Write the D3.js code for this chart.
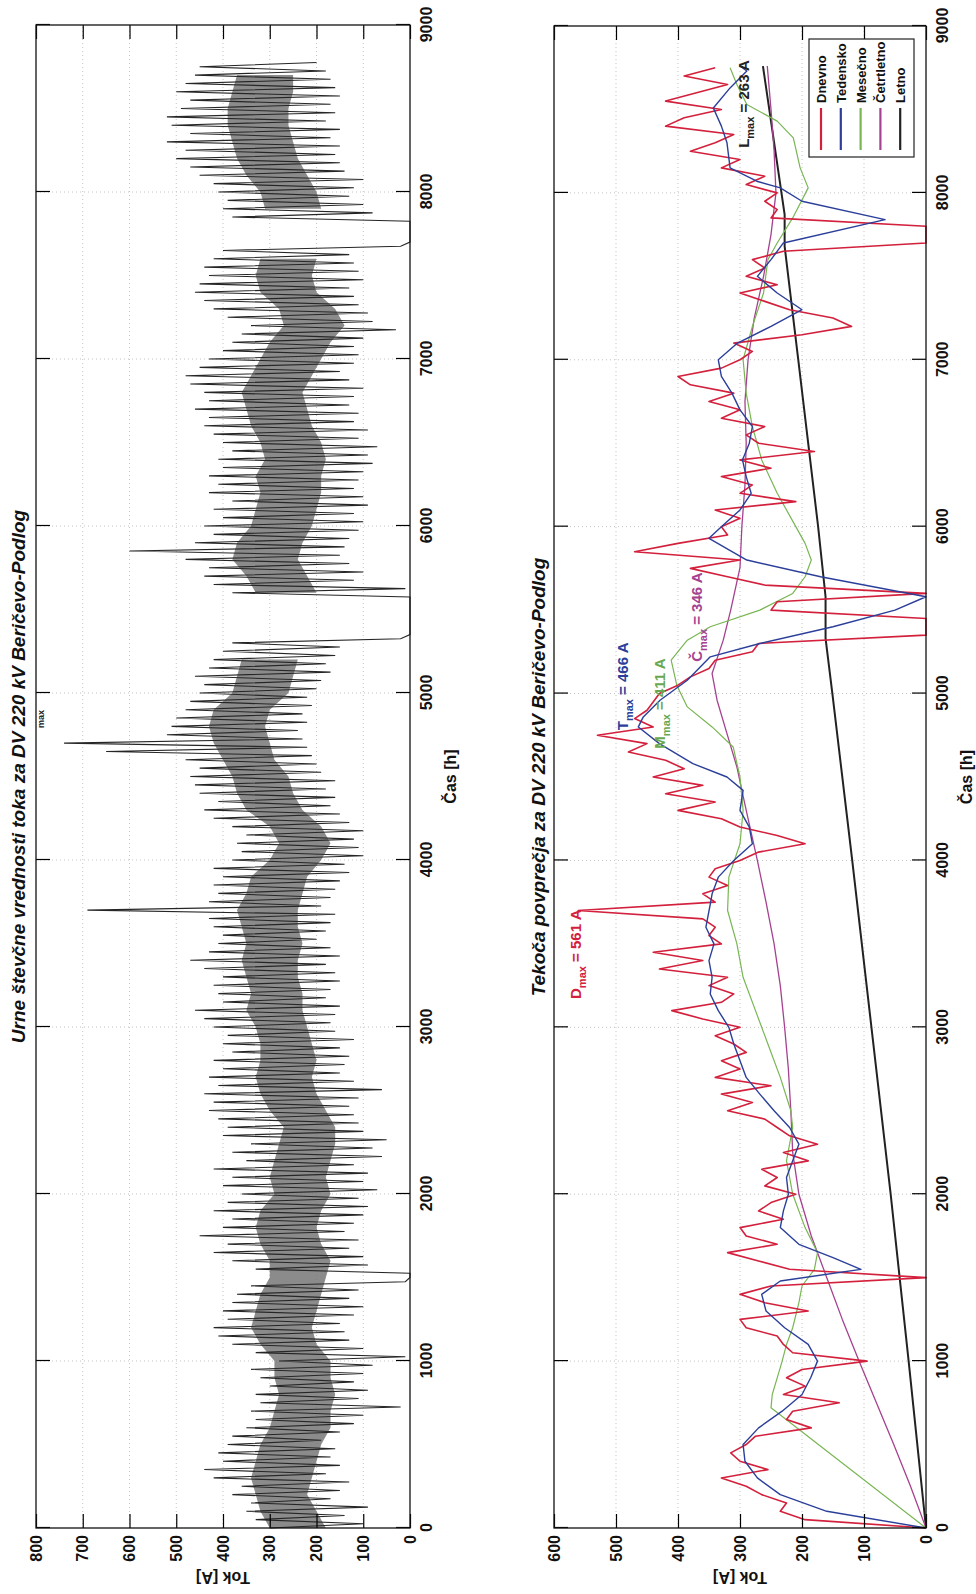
<!DOCTYPE html>
<html><head><meta charset="utf-8">
<script src="https://cdn.jsdelivr.net/npm/d3@7/dist/d3.min.js"></script>
<style>
body{margin:0;background:#fff}
svg{display:block}
text{font-family:"Liberation Sans",Arial,Helvetica,sans-serif}
</style>
</head><body><div id="chart"></div>
<script>
// ---------------- DATA ----------------
const timeTicks = [0,1000,2000,3000,4000,5000,6000,7000,8000,9000];
const tokTicksTop = [0,100,200,300,400,500,600,700,800];
const tokTicksBottom = [0,100,200,300,400,500,600];

// Top panel: hourly meter values, read as alternating upper / lower swings every 50 h (0..8750 h)
const hourlyStep = 50;
const hourlyHi = [
 300,330,350,340,380,360,420,440,400,410,390,380,350,330,340,320,330,300,320,340,
 280,330,380,410,420,390,400,380,370,340,0,330,380,420,390,450,400,380,420,390,
 360,400,380,420,350,380,340,400,390,410,430,420,440,410,430,400,420,380,400,390,
 420,440,460,400,410,420,400,440,470,430,410,400,420,430,690,430,410,420,400,420,
 380,360,370,350,380,420,440,410,450,460,470,450,480,650,740,520,510,500,480,470,
 450,440,460,430,420,400,380,0,0,0,0,0,380,420,440,430,480,600,460,420,
 440,400,420,380,430,410,430,400,410,380,400,420,440,430,460,430,440,470,480,450,
 430,400,380,360,340,390,420,440,460,450,430,440,420,400,0,0,0,380,400,390,
 410,420,450,470,500,480,520,470,510,520,490,470,500,480,460,450];
const hourlyLo = [
 100,140,90,170,150,130,180,150,170,160,190,150,120,100,20,110,90,120,100,80,
 10,100,130,140,150,120,100,130,110,10,0,90,100,130,110,140,120,100,90,110,
 70,100,90,120,60,80,50,100,110,120,130,110,60,120,150,140,130,150,120,160,
 170,160,150,180,170,150,160,180,150,170,200,180,170,160,190,170,160,150,130,140,
 100,110,120,100,130,150,170,160,180,160,190,200,210,220,230,240,220,230,210,220,
 200,190,170,180,160,150,20,0,0,0,0,0,10,120,100,130,150,140,130,110,
 100,120,90,100,120,110,100,80,90,70,110,90,120,110,130,120,100,130,150,120,
 110,120,100,30,80,90,110,120,130,100,110,120,130,20,0,0,0,80,100,130,
 120,100,140,150,160,150,170,150,180,160,170,150,160,170,180,200];
// dense core of the hourly band, every 100 h (null = no data)
const coreStep = 100;
const coreHi = [
 300,320,330,340,330,320,300,290,280,290,
 290,320,340,330,320,300,300,320,330,320,
 290,300,290,280,270,300,320,330,320,320,
 330,350,340,350,360,350,360,370,350,340,
 300,280,300,350,370,380,400,420,430,420,
 380,370,360,null,null,null,330,350,380,370,
 340,330,320,330,310,320,340,350,360,340,
 320,300,270,280,320,330,320,null,null,310,
 320,350,370,380,390,390,380,370];
const coreLo = [
 180,200,220,210,200,190,170,170,160,170,
 170,200,210,200,190,180,170,190,200,190,
 170,180,170,160,160,180,200,210,200,210,
 220,230,230,240,240,230,240,240,230,220,
 190,170,190,230,250,260,290,300,310,300,
 260,250,240,null,null,null,200,220,240,230,
 210,200,190,190,180,190,210,220,230,210,
 190,170,140,160,200,210,200,null,null,190,
 200,220,240,250,260,260,250,250];

// Bottom panel: running averages
const dailyStep = 50;
const dnevno = [
 0,195,235,225,265,290,330,255,300,315,290,275,185,225,215,140,230,195,225,200,
 95,215,230,240,290,300,190,260,300,250,0,220,270,320,240,290,300,230,270,250,
 210,260,240,265,190,230,175,220,240,260,320,280,330,250,340,300,330,290,310,340,
 300,360,410,330,310,350,320,430,360,440,330,350,340,360,561,340,360,320,350,340,
 300,270,195,240,300,330,400,340,420,360,440,390,420,480,450,530,440,470,450,440,
 430,400,380,350,340,280,270,0,0,0,250,240,0,260,320,380,300,470,400,320,
 330,300,340,210,300,280,330,250,300,180,270,290,260,330,300,350,310,380,400,330,
 300,280,310,200,120,150,220,260,300,240,290,260,280,230,0,0,0,250,240,260,
 240,290,260,330,300,380,340,310,420,390,330,420,370,320,390,340];

const tedenskoT = [0,100,200,300,400,500,600,700,800,900,1000,1100,1200,1300,1400,1480,1550,1620,
 1700,1800,1900,2000,2100,2200,2300,2400,2500,2600,2700,2800,2900,3000,3100,3200,3300,3400,3500,3600,
 3737,3800,3900,4000,4100,4200,4300,4420,4500,4580,4700,4800,4860,4960,5080,5220,5300,5400,5500,5580,
 5700,5800,5930,6000,6100,6200,6300,6400,6500,6600,6700,6800,6900,7000,7100,7200,7300,7400,7500,7600,7700,
 7840,7950,8030,8070,8150,8300,8400,8509,8629,8730,8760];
const tedenskoV = [0,160,235,272,292,295,270,232,200,186,175,190,228,258,265,235,105,150,
 205,235,230,222,225,215,205,220,245,268,290,300,310,318,335,348,345,350,342,355,
 348,345,335,310,280,285,300,295,321,376,430,464,456,429,385,348,268,150,50,0,
 170,289,350,330,300,282,290,296,285,280,300,313,330,335,304,250,200,240,272,250,230,
 66,200,235,273,316,321,330,343,316,289,300];

const mesecnoT = [0,720,800,900,1000,1100,1200,1350,1450,1550,1650,1800,2000,2200,2400,2500,2700,2900,3100,3300,
 3500,3700,3900,4100,4300,4500,4680,4800,4920,5050,5200,5320,5400,5500,5600,5700,5800,5900,6000,6200,6400,6600,
 6800,7000,7200,7400,7600,7700,7850,8030,8150,8330,8430,8530,8650,8750];
const mesecnoV = [0,250,248,240,232,225,215,205,200,180,175,195,215,225,215,218,235,255,275,295,
 305,320,318,300,295,300,311,345,385,402,411,385,348,268,215,195,185,195,210,240,265,280,
 290,295,280,262,255,240,215,190,203,214,240,289,305,316];

const cetrtletnoT = [0,250,500,750,1000,1250,1500,1750,2000,2250,2500,2750,3000,3250,3500,3750,4000,4250,
 4420,4560,4760,4960,5120,5320,5500,5755,6000,6250,6500,6750,7000,7250,7500,7750,8000,8250,8500,8760];
const cetrtletnoV = [0,25,52,80,108,135,160,185,205,215,218,222,228,235,245,258,272,287,
 297,305,321,337,345,327,315,300,297,292,290,292,287,277,262,250,242,245,250,256];

const letnoT = [0,1000,2000,3000,4000,5000,5330,5580,6000,7000,7680,7870,8760];
const letnoV = [0,28,57,88,119,151,162,162,174,206,228,228,263];

const seriesNames = ["Dnevno","Tedensko","Mesečno","Četrtletno","Letno"];
const seriesColors = ["#d3203c","#2b3f9a","#79b653","#a5428f","#222222"];

const annotations = [
 {c:"D", v:561, t:3170, a:556, color:"#d3203c"},
 {c:"T", v:466, t:4780, a:481, color:"#2b3f9a"},
 {c:"M", v:411, t:4670, a:421, color:"#6aa84f"},
 {c:"Č", v:346, t:5190, a:361, color:"#a5428f"},
 {c:"L", v:263, t:8270, a:286, color:"#222222"}
];

// ---------------- DRAW ----------------
const svg = d3.select('#chart').append('svg').attr('width', 976).attr('height', 1594);
const root = svg.append('g').attr('transform', 'translate(0,1594) rotate(-90)');

function panel(cfg){
  const g = root.append('g');
  const x = d3.scaleLinear().domain([0,9000]).range([cfg.x0, cfg.x1]);
  const y = d3.scaleLinear().domain([0, cfg.ymax]).range([cfg.y0, cfg.y1]);
  g.append('g').selectAll('line').data(timeTicks.slice(1,-1)).join('line')
    .attr('x1', d=>x(d)).attr('x2', d=>x(d)).attr('y1', cfg.y1).attr('y2', cfg.y0)
    .attr('stroke','#c4c4c4').attr('stroke-dasharray','1,3').attr('stroke-width',1);
  g.append('g').selectAll('line').data(cfg.ticks.slice(1,-1)).join('line')
    .attr('y1', d=>y(d)).attr('y2', d=>y(d)).attr('x1', cfg.x0).attr('x2', cfg.x1)
    .attr('stroke','#c4c4c4').attr('stroke-dasharray','1,3').attr('stroke-width',1);
  return {g, x, y};
}

function axes(p, cfg){
  const {g, x, y} = p;
  const styleAxis = sel => {
    sel.selectAll('.domain').remove();
    sel.selectAll('.tick line').attr('stroke','#000').attr('stroke-width',1.2);
    sel.selectAll('text').attr('font-size',16).attr('font-weight','bold').attr('fill','#111')
      .attr('font-family','"Liberation Sans",Arial,sans-serif');
  };
  const fmt = d3.format('d');
  g.append('g').attr('transform',`translate(0,${cfg.y0})`)
    .call(d3.axisBottom(x).tickValues(timeTicks).tickFormat(fmt).tickSize(-14).tickPadding(11)).call(styleAxis);
  g.append('g').attr('transform',`translate(0,${cfg.y1})`)
    .call(d3.axisTop(x).tickValues(timeTicks).tickSize(-14).tickFormat('')).call(styleAxis);
  g.append('g').attr('transform',`translate(${cfg.x0},0)`)
    .call(d3.axisLeft(y).tickValues(cfg.ticks).tickFormat(fmt).tickSize(-14).tickPadding(7)).call(styleAxis);
  g.append('g').attr('transform',`translate(${cfg.x1},0)`)
    .call(d3.axisRight(y).tickValues(cfg.ticks).tickSize(-14).tickFormat('')).call(styleAxis);
  g.append('rect').attr('x',cfg.x0).attr('y',cfg.y1).attr('width',cfg.x1-cfg.x0).attr('height',cfg.y0-cfg.y1)
    .attr('fill','none').attr('stroke','#111').attr('stroke-width',1.3);
  g.append('text').attr('x',(cfg.x0+cfg.x1)/2).attr('y',cfg.titleY).attr('text-anchor','middle')
    .attr('font-size',19).attr('font-weight','bold').attr('font-style','italic').attr('fill','#111').text(cfg.title);
  g.append('text').attr('x',(cfg.x0+cfg.x1)/2).attr('y',cfg.xlabY).attr('text-anchor','middle')
    .attr('font-size',16).attr('font-weight','bold').attr('fill','#111').text('Čas [h]');
  g.append('text').attr('transform',`translate(22,${(cfg.y0+cfg.y1)/2}) rotate(-90)`).attr('text-anchor','middle')
    .attr('font-size',16).attr('font-weight','bold').attr('fill','#111').text('Tok [A]');
}

// ---- top panel
const c1 = {x0:66, x1:1569, y0:410, y1:36, ymax:800, ticks:tokTicksTop,
  title:'Urne števčne vrednosti toka za DV 220 kV Beričevo-Podlog', titleY:25, xlabY:456};
const p1 = panel(c1);
const core = coreHi.map((h,i)=>[i*coreStep, coreLo[i], h]);
p1.g.append('path').datum(core)
  .attr('d', d3.area().defined(d=>d[2]!=null).x(d=>p1.x(d[0])).y0(d=>p1.y(d[1])).y1(d=>p1.y(d[2])))
  .attr('fill','#777777').attr('fill-opacity',0.85).attr('stroke','none');
const zig = [];
hourlyHi.forEach((h,i)=>{ zig.push([i*hourlyStep, h]); zig.push([i*hourlyStep + hourlyStep/2, hourlyLo[i]]); });
p1.g.append('path').datum(zig)
  .attr('d', d3.line().x(d=>p1.x(d[0])).y(d=>p1.y(d[1])))
  .attr('fill','none').attr('stroke','#262626').attr('stroke-width',1.1);
axes(p1, c1);
p1.g.append('text').attr('x', p1.x(4790)).attr('y', 44).attr('font-size',9).attr('font-weight','bold')
  .attr('fill','#222').text('max');

// ---- bottom panel
const c2 = {x0:66, x1:1568, y0:926, y1:554, ymax:600, ticks:tokTicksBottom,
  title:'Tekoča povprečja za DV 220 kV Beričevo-Podlog', titleY:545, xlabY:972};
const p2 = panel(c2);
const line2 = d3.line().x(d=>p2.x(d[0])).y(d=>p2.y(d[1]));
const sData = [
  dnevno.map((v,i)=>[i*dailyStep, v]),
  tedenskoT.map((t,i)=>[t, tedenskoV[i]]),
  mesecnoT.map((t,i)=>[t, mesecnoV[i]]),
  cetrtletnoT.map((t,i)=>[t, cetrtletnoV[i]]),
  letnoT.map((t,i)=>[t, letnoV[i]])
];
const widths = [1.6,1.4,1.2,1.3,2.0];
[4,3,2,0,1].forEach(k=>{
  p2.g.append('path').datum(sData[k]).attr('d', line2)
    .attr('fill','none').attr('stroke', seriesColors[k]).attr('stroke-width', widths[k])
    .attr('stroke-linejoin','round');
});
axes(p2, c2);

annotations.forEach(a=>{
  const t = p2.g.append('text').attr('x', p2.x(a.t)).attr('y', p2.y(a.a))
    .attr('font-size',15).attr('font-weight','bold').attr('fill', a.color);
  t.append('tspan').text(a.c);
  t.append('tspan').attr('dy',5).attr('font-size',11).text('max');
  t.append('tspan').attr('dy',-5).text(' = ' + a.v + ' A');
});

const lg = p2.g.append('g');
lg.append('rect').attr('x',1437).attr('y',809).attr('width',118).attr('height',105)
  .attr('fill','#fff').attr('stroke','#222').attr('stroke-width',1.2);
seriesNames.forEach((n,i)=>{
  const yy = 821 + i*19.8;
  lg.append('line').attr('x1',1444).attr('x2',1486).attr('y1',yy).attr('y2',yy)
    .attr('stroke', seriesColors[i]).attr('stroke-width',2.2);
  lg.append('text').attr('x',1491).attr('y',yy+5).attr('font-size',13).attr('font-weight','bold')
    .attr('fill','#111').text(n);
});
</script>
</body></html>
